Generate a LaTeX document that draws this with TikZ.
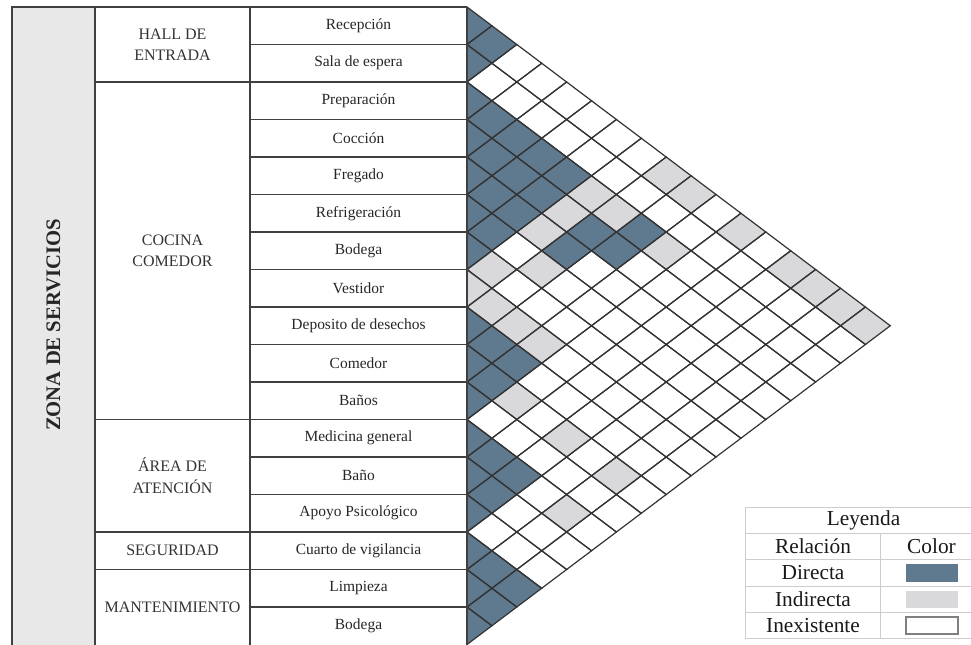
\documentclass[tikz,border=0pt]{standalone}
\usepackage{fontspec}
\setmainfont{Liberation Serif}
\usepackage{xcolor}
\usepackage{tikz}
\usetikzlibrary{positioning}
\definecolor{directa}{HTML}{5F7A8F}
\definecolor{indirecta}{HTML}{D9D9DC}
\definecolor{zonagris}{HTML}{E8E8E8}
\definecolor{lineagris}{HTML}{CDCDCD}
\tikzset{
  zone/.style={rotate=90, font=\fontsize{15.5}{18}\selectfont\bfseries, text=black!85},
  group/.style={align=center, font=\fontsize{12}{16}\selectfont, text=black!80},
  room/.style={font=\fontsize{11.6}{14}\selectfont, text=black!85},
  legend/.style={font=\fontsize{16}{18}\selectfont, text=black!90},
  swatch/.style={rectangle, minimum width=39pt, minimum height=13pt, inner sep=0pt},
  tab/.style={draw=black!75, line width=1pt},
  grid/.style={draw=black!80, line width=0.9pt},
}
% diamond of the pair (i,j), in pixels
\newcommand{\celda}[2]{(467+#2*24.9-#1*24.9-24.9, 18.75*#1+18.75*#2-11.75)
  -- ++(24.9,-18.75) -- ++(24.9,18.75) -- ++(-24.9,18.75) -- cycle}

\begin{document}
\begin{tikzpicture}[x=0.75pt, y=-0.75pt]
  \useasboundingbox (0,0) rectangle (971,645);
  % table of spaces
  \fill[zonagris] (12,7) rectangle (95,646);
  \draw[tab] (12,646) -- (12,7) -- (467,7);
  \draw[tab] (95,7) -- (95,646) (250,7) -- (250,646);
  \foreach \k in {1,...,16} \draw[tab] (250,7+37.5*\k) -- (467,7+37.5*\k);
  \foreach \k in {2,11,14,15} \draw[tab] (95,7+37.5*\k) -- (250,7+37.5*\k);
  \node[zone] (zona) at (53.5,325) {ZONA DE SERVICIOS};
  \node[group] (hall) at (172.5,44.5) {HALL DE\\ENTRADA};
  \node[group] (cocina) at (172.5,250.75) {COCINA\\COMEDOR};
  \node[group] (atencion) at (172.5,475.75) {ÁREA DE\\ATENCIÓN};
  \node[group] (seguridad) at (172.5,550.75) {SEGURIDAD};
  \node[group] (mant) at (172.5,607) {MANTENIMIENTO};
  \foreach \e [count=\k] in {Recepción, Sala de espera, Preparación, Cocción,
      Fregado, Refrigeración, Bodega, Vestidor, Deposito de desechos, Comedor,
      Baños, Medicina general, Baño, Apoyo Psicológico, Cuarto de vigilancia,
      Limpieza, Bodega}
    \node[room] (e\k) at (358.5,37.5*\k-11.75) {\e};
  % relation matrix
  \begin{scope}
    \clip (467,0) rectangle (971,645);
    \foreach \i/\j in {1/1,1/2,2/2,3/3,3/4,3/5,3/6,3/7,4/4,4/5,4/6,4/7,5/5,5/6,
        5/7,6/6,6/7,7/7,4/9,3/10,5/9,4/10,9/9,9/10,9/11,10/10,10/11,11/11,
        12/12,12/13,12/14,13/13,13/14,14/14,15/15,15/16,15/17,16/16,16/17,17/17}
      \fill[directa] \celda{\i}{\j};
    \foreach \i/\j in {1/9,1/10,1/12,1/14,1/15,1/16,1/17,3/8,4/8,5/8,7/8,8/8,
        3/9,6/9,8/9,8/10,8/11,3/11,10/12,10/14,10/16,12/16}
      \fill[indirecta] \celda{\i}{\j};
    \foreach \i in {1,...,17} \foreach \j in {\i,...,17}
      \draw[grid] \celda{\i}{\j};
  \end{scope}
  \draw[tab] (467,7) -- (467,646);
  % legend
  \draw[lineagris] (971,507) -- (745,507) -- (745,638) -- (971,638);
  \foreach \y in {533,559.5,586,612.5} \draw[lineagris] (745,\y) -- (971,\y);
  \draw[lineagris] (880.7,533) -- (880.7,638);
  \node[legend] (ley) at (863.5,520) {Leyenda};
  \node[legend] (rel) at (813,546.25) {Relación};
  \node[legend] (col) at (931.5,546.25) {Color};
  \node[legend] (ldir) at (813,572.75) {Directa};
  \node[legend] (lind) at (813,599.25) {Indirecta};
  \node[legend] (linx) at (813,625.25) {Inexistente};
  \node[swatch, fill=directa] (sdir) at (931.7,573) {};
  \node[swatch, fill=indirecta] (sind) at (931.7,599.5) {};
  \node[swatch, draw=black!50, line width=1.5pt, fill=white] (sinx) at (931.7,625.8) {};
\end{tikzpicture}
\end{document}
